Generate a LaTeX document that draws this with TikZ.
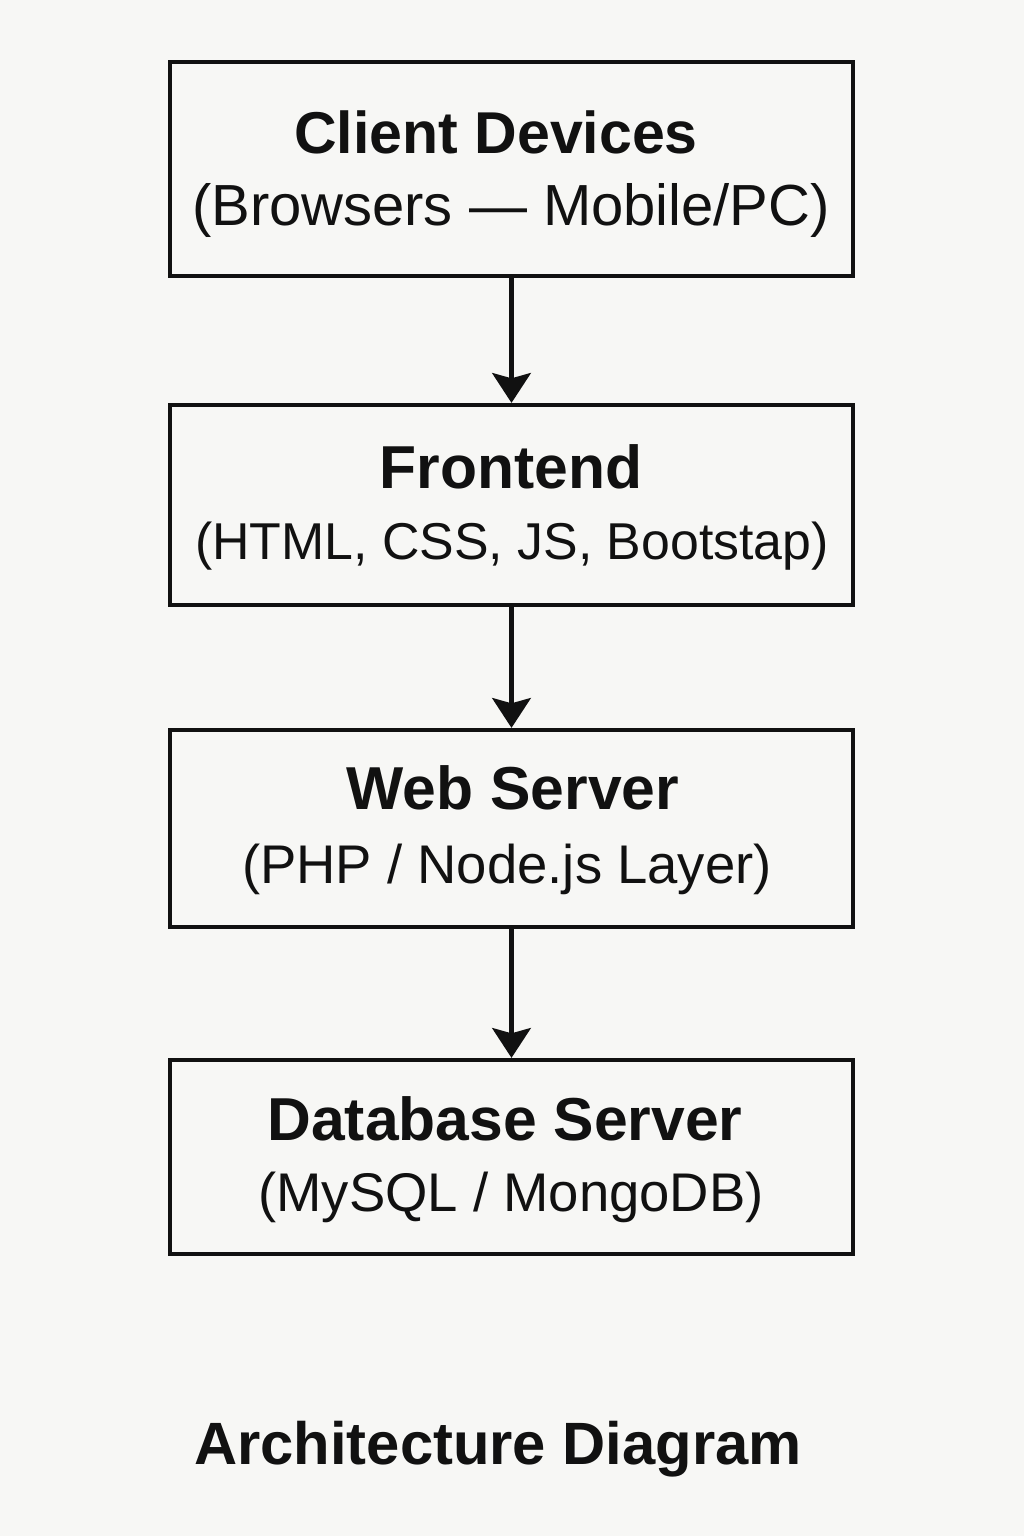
\documentclass[tikz,border=0pt]{standalone}
\usepackage{fontspec}
\setmainfont{Liberation Sans}
\usetikzlibrary{arrows.meta}
\definecolor{bg}{HTML}{F7F7F5}
\definecolor{ink}{HTML}{111111}
\tikzset{
  box/.style={draw=ink, line width=2.4pt, minimum width=683*0.02cm, inner sep=0pt},
  head/.style={font=\bfseries\fontsize{34.5}{38}\selectfont, text=ink, anchor=center},
  sub/.style={font=\fontsize{31}{36}\selectfont, text=ink, anchor=center},
  conn/.style={draw=ink, line width=2.4pt, -{Stealth[length=17pt, width=22pt, inset=3pt]}}
}
\begin{document}
\begin{tikzpicture}[x=0.02cm, y=-0.02cm]
\fill[bg] (0,0) rectangle (1024,1536);
\useasboundingbox (0,0) rectangle (1024,1536);

\node[box, minimum height=214*0.02cm] (client) at (511.5,169) {};
\node[head, font=\bfseries\fontsize{33.6}{38}\selectfont] (clientA) at (496,132) {Client Devices};
\node[sub, font=\fontsize{33}{38}\selectfont] (clientB) at (511,210) {(Browsers — Mobile/PC)};

\node[box, minimum height=200*0.02cm] (front) at (511.5,505) {};
\node[head] (frontA) at (511,467) {Frontend};
\node[sub, font=\fontsize{29.5}{34}\selectfont] (frontB) at (512,546) {(HTML, CSS, JS, Bootstap)};

\node[box, minimum height=197*0.02cm] (web) at (511.5,828.5) {};
\node[head] (webA) at (513,788) {Web Server};
\node[sub] (webB) at (507,869) {(PHP / Node.js Layer)};

\node[box, minimum height=194*0.02cm] (db) at (511.5,1157) {};
\node[head] (dbA) at (505,1119) {Database Server};
\node[sub] (dbB) at (511,1197) {(MySQL / MongoDB)};

\draw[conn] (client.south) -- (front.north);
\draw[conn] (front.south) -- (web.north);
\draw[conn] (web.south) -- (db.north);

\node[head, font=\bfseries\fontsize{34}{38}\selectfont] (title) at (498,1449) {Architecture Diagram};
\end{tikzpicture}
\end{document}
